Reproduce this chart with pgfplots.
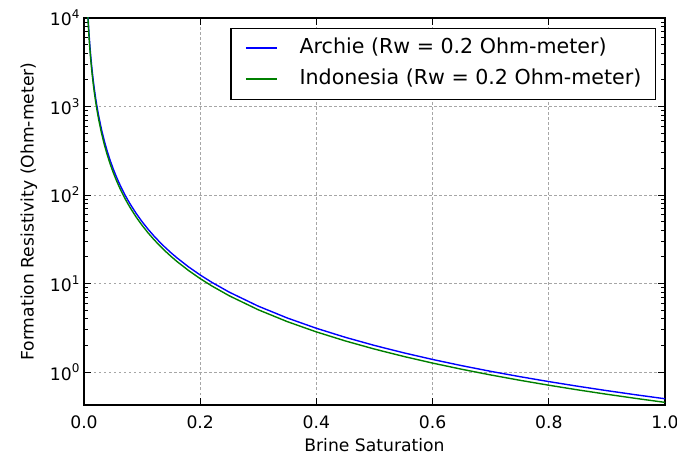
\documentclass[border=0pt]{standalone}
\usepackage{fontspec}
\setmainfont{DejaVu Sans}
\usepackage{pgfplots}
\usepackage{pgfplotstable}
\pgfplotsset{compat=1.18}
\newcommand\tp[1]{10\raisebox{0.42em}{\fontsize{12}{12}\selectfont #1}}
\pgfplotstableread{
s a i
0.006 13889 12639
0.007 10204 9286
0.008 7812.5 7109
0.009 6172.8 5617
0.010 5000 4550
0.011 4132 3760
0.012 3472.2 3160
0.013 2959 2692.7
0.014 2551.0 2321
0.016 1953.1 1777
0.018 1543.2 1404
0.020 1250 1137.5
0.022 1033 940.1
0.025 800 728
0.030 555.6 505.6
0.035 408.2 371.4
0.040 312.5 284.4
0.045 246.9 224.7
0.050 200 182
0.055 165.3 150.4
0.060 138.9 126.4
0.065 118.3 107.7
0.070 102.0 92.86
0.075 88.89 80.89
0.080 78.13 71.09
0.090 61.73 56.17
0.100 50 45.5
0.110 41.32 37.60
0.120 34.72 31.60
0.130 29.59 26.93
0.140 25.51 23.21
0.150 22.22 20.22
0.160 19.53 17.77
0.180 15.43 14.04
0.200 12.5 11.375
0.220 10.33 9.401
0.250 8 7.28
0.300 5.556 5.056
0.350 4.082 3.714
0.400 3.125 2.844
0.450 2.469 2.247
0.500 2 1.82
0.550 1.653 1.504
0.600 1.389 1.264
0.650 1.183 1.077
0.700 1.020 0.9286
0.750 0.8889 0.8089
0.800 0.7813 0.7109
0.850 0.6920 0.6297
0.900 0.6173 0.5617
0.950 0.5540 0.5042
1.000 0.5 0.455
}\data
\begin{document}
\begin{tikzpicture}
\begin{axis}[
  scale only axis, width=581pt, height=387pt,
  ymode=log, xmin=0, xmax=1, ymin=0.425, ymax=10000,
  xtick={0,0.2,0.4,0.6,0.8,1.0},
  xticklabels={0.0,0.2,0.4,0.6,0.8,1.0},
  ytick={1,10,100,1000,10000},
  yticklabels={\tp{0},\tp{1},\tp{2},\tp{3},\tp{4}},
  tick align=inside, tick pos=both,
  major tick length=7pt, minor tick length=4pt,
  grid=major,
  major grid style={black!35, dash pattern=on 2.5pt off 2.5pt, line width=0.8pt},
  axis line style={line width=1.4pt},
  every tick/.style={black, line width=1pt},
  tick label style={font=\fontsize{17.2}{20}\selectfont},
  xticklabel style={yshift=-7pt},
  yticklabel style={xshift=-1pt},
  label style={font=\fontsize{17.2}{20}\selectfont},
  xlabel={Brine Saturation},
  ylabel={Formation Resistivity (Ohm-meter)},
  xlabel style={at={(rel axis cs:0.5,0)}, anchor=north, yshift=-30pt},
  ylabel style={at={(rel axis cs:-0.095,0.5)}, anchor=center},
  legend cell align=left,
  legend image code/.code={\draw[#1, line width=1.5pt] (0pt,0.7pt) -- (31pt,0.7pt);},
  legend style={at={(1,1)}, anchor=north east, xshift=-9pt, yshift=-10pt,
    draw=black, line width=1.2pt, font=\fontsize{20.6}{24}\selectfont,
    inner xsep=14pt, inner ysep=10pt, row sep=11pt, column sep=22pt,
    nodes={inner sep=0pt, text height=15pt, text depth=5pt}},
]
\addplot[blue, line width=1.4pt] table[x=s, y=a] {\data};
\addlegendentry{Archie (Rw = 0.2 Ohm-meter)}
\addplot[green!50!black, line width=1.4pt] table[x=s, y=i] {\data};
\addlegendentry{Indonesia (Rw = 0.2 Ohm-meter)}
\end{axis}
\pgfresetboundingbox
\path[use as bounding box] ([shift={(-84pt,-55pt)}]current axis.south west) rectangle ([shift={(12pt,18pt)}]current axis.north east);
\end{tikzpicture}
\end{document}
